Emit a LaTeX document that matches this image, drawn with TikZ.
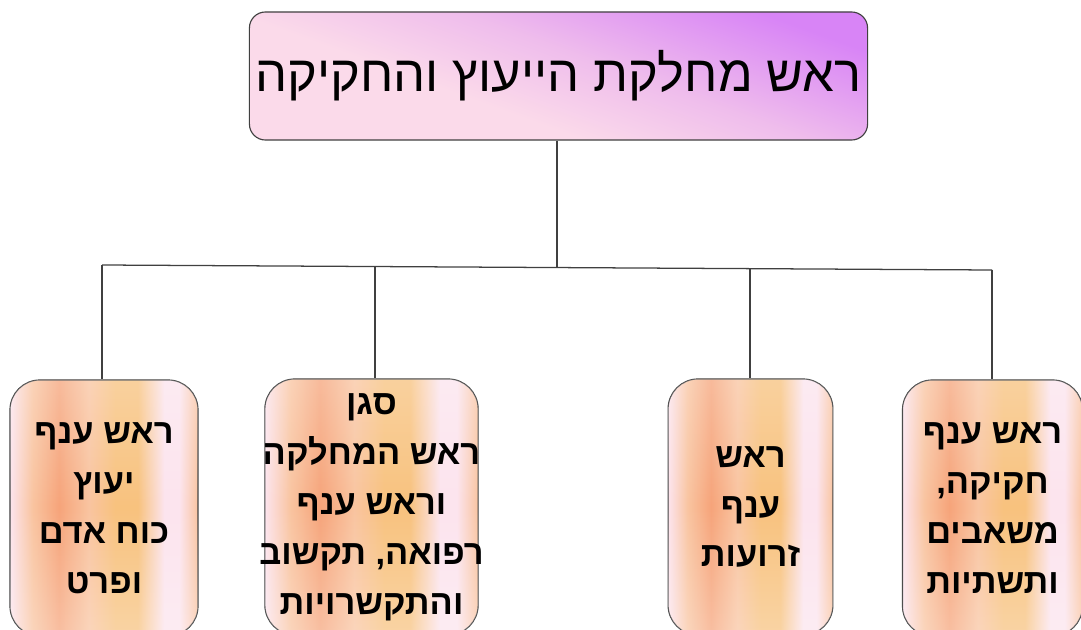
\documentclass[tikz,border=0pt]{standalone}
\usepackage{fontspec}
\setmainfont{Liberation Sans}
\newfontfamily\hebfont[Script=Hebrew]{Liberation Sans}
\TeXXeTstate=1
\usetikzlibrary{fadings}
\newcommand{\hebline}[1]{\beginR #1\endR}
\newcommand{\hebwide}[1]{\makebox[5.1cm]{\beginR #1\endR}}

\definecolor{paleblush}{HTML}{FCE4EE}
\definecolor{softpeach}{HTML}{F9C4A0}
\definecolor{deeporange}{HTML}{F6A47A}
\definecolor{goldpeach}{HTML}{F8C27E}
\definecolor{headpink}{HTML}{FBDAEA}
\definecolor{headmid}{HTML}{EFBDEC}
\definecolor{headviolet}{HTML}{D884F6}
\definecolor{wirecol}{HTML}{404040}

\pgfdeclarehorizontalshading{branchshade}{100bp}{color(0bp)=(paleblush); color(25bp)=(paleblush); color(31bp)=(softpeach); color(38bp)=(deeporange); color(46bp)=(softpeach); color(53bp)=(goldpeach); color(59bp)=(goldpeach); color(66bp)=(paleblush); color(70bp)=(paleblush); color(75bp)=(softpeach); color(100bp)=(softpeach)}
\pgfdeclarehorizontalshading{headshade}{100bp}{color(0bp)=(headpink); color(25bp)=(headpink); color(40bp)=(headpink); color(55bp)=(headmid); color(75bp)=(headviolet); color(100bp)=(headviolet)}
\tikzfading[name=edgefade, top color=transparent!75, bottom color=transparent!70, middle color=transparent!100]

\tikzset{
  headbox/.style={draw=wirecol, line width=0.8pt, rounded corners=0.4cm, shading=headshade, shading angle=70,
    minimum width=15.45cm, minimum height=3.2cm, font=\hebfont\fontsize{36}{42}\selectfont},
  branchbox/.style={draw=wirecol, line width=0.8pt, rounded corners=0.75cm, shading=branchshade,
    postaction={fill=white, path fading=edgefade},
    minimum height=6.4cm, align=center, inner sep=0pt, font=\hebfont\bfseries\fontsize{24.5}{35.5}\selectfont},
  wire/.style={draw=wirecol, line width=0.9pt}
}

\begin{document}
\begin{tikzpicture}[x=0.025cm,y=-0.025cm]

\useasboundingbox (0,0) rectangle (1081,630);

% head of the department
\node[headbox] (head) at (558.5,76) {\hebline{ראש מחלקת הייעוץ והחקיקה}};

%%%%%%%%%%%%%%%%%%%% Branches %%%%%%%%%%%%%%%%%%%%%%%%%%

\node[branchbox, minimum width=4.7cm] (b1) at (104,508)
  {\hebline{ראש ענף}\\ \hebline{יעוץ}\\ \hebline{כוח אדם}\\ \hebline{ופרט}};

\node[branchbox, minimum width=5.33cm] (b2) at (371.5,507)
  {\hebline{סגן}\\ \hebwide{ראש המחלקה}\\ \hebline{וראש ענף}\\ \hebwide{רפואה, תקשוב}\\ \hebwide{והתקשרויות}};

\node[branchbox, minimum width=4.12cm] (b3) at (750.5,507)
  {\hebline{ראש}\\ \hebline{ענף}\\ \hebline{זרועות}};

\node[branchbox, minimum width=4.5cm] (b4) at (992.5,508)
  {\hebline{ראש ענף}\\ \hebline{חקיקה,}\\ \hebline{משאבים}\\ \hebline{ותשתיות}};

% bus points
\coordinate (bus1) at (102,265);
\coordinate (bus2) at (375,266.5);
\coordinate (bus3) at (750,268.5);
\coordinate (bus4) at (992,270);
\coordinate (bus0) at (557,267.5);

%Draw connectors
\path [wire] (head.south -| bus0) -- (bus0);
\path [wire] (bus1) -- (bus4);
\foreach \index in {1,...,4}
{
    \path [wire] (bus\index) -- (bus\index |- b\index.north);
}

\end{tikzpicture}
\end{document}
